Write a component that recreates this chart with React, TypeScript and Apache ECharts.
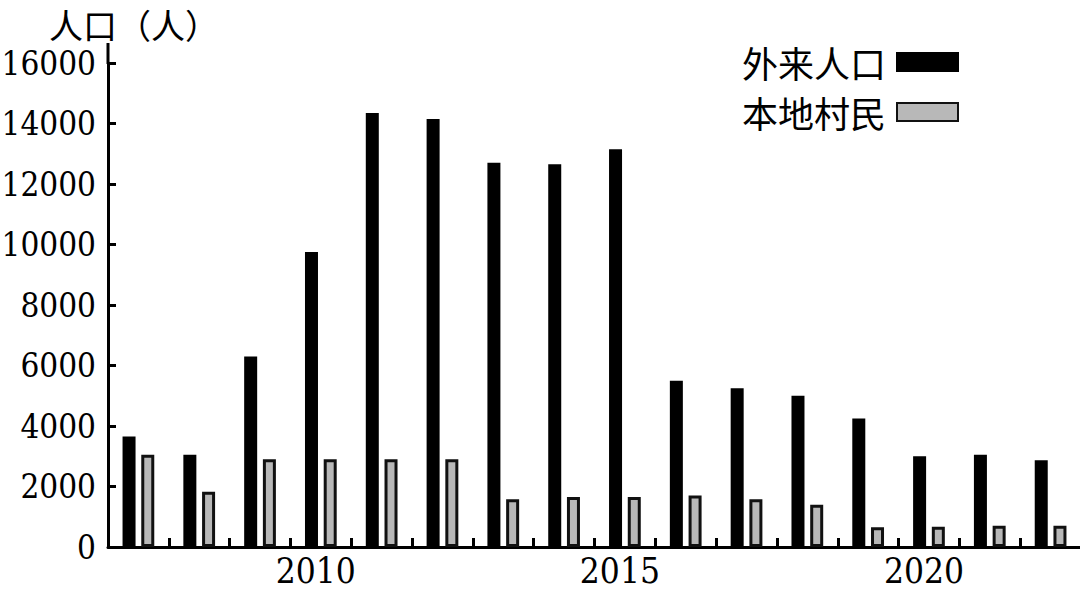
import React, { useEffect, useRef } from 'react';
import * as echarts from 'echarts';

const years = ['2007', '2008', '2009', '2010', '2011', '2012', '2013', '2014', '2015', '2016', '2017', '2018', '2019', '2020', '2021', '2022'];
const migrants = [3650, 3050, 6300, 9750, 14350, 14150, 12700, 12650, 13150, 5500, 5250, 5000, 4250, 3000, 3050, 2870];
const villagers = [3050, 1830, 2900, 2900, 2900, 2900, 1580, 1650, 1650, 1700, 1580, 1400, 650, 670, 700, 700];
const shownYears = ['2010', '2015', '2020'];

const serif = 'DejaVu Serif Condensed';
const cjk = 'Noto Sans CJK SC';

const App: React.FC = () => {
	const chartRef = useRef<HTMLDivElement>(null);

	useEffect(() => {
		if (!chartRef.current) return;
		const chart = echarts.init(chartRef.current, undefined, { renderer: 'svg' });

		const option: any = {
			animation: false,
			backgroundColor: '#fff',
			title: {
				text: '人口（人）',
				left: 44,
				top: 2,
				textStyle: { fontFamily: cjk, fontSize: 34, fontWeight: 'normal', color: '#000' }
			},
			legend: {
				orient: 'vertical',
				align: 'right',
				right: 116,
				top: 39,
				itemWidth: 61,
				itemHeight: 18,
				itemGap: 14,
				icon: 'rect',
				textStyle: { fontFamily: cjk, fontSize: 36, color: '#000', lineHeight: 36, padding: [0, 6, 0, 0] },
				data: ['外来人口', '本地村民']
			},
			grid: { left: 108, top: 63, width: 973, height: 484, outerBoundsMode: 'none', containLabel: false },
			xAxis: {
				type: 'category',
				data: years,
				boundaryGap: true,
				axisLine: { lineStyle: { color: '#000', width: 3 } },
				axisTick: { show: true, inside: true, length: 9, interval: 0, lineStyle: { color: '#000', width: 3 } },
				axisLabel: {
					interval: (_i: number, v: string) => shownYears.includes(v),
					color: '#000',
					fontFamily: serif,
					fontSize: 35,
					margin: 6,
					padding: [0, 10, 0, 0]
				}
			},
			yAxis: {
				type: 'value',
				min: 0,
				max: 16000,
				interval: 2000,
				axisLine: { show: true, lineStyle: { color: '#000', width: 3 } },
				axisTick: { show: true, inside: true, length: 8, lineStyle: { color: '#000', width: 3 } },
				axisLabel: { color: '#000', fontFamily: serif, fontSize: 33, margin: 12, formatter: (v: number) => String(v) },
				splitLine: { show: false }
			},
			graphic: [
				{
					type: 'line',
					shape: { x1: 108, y1: 43, x2: 108, y2: 64 },
					style: { stroke: '#000', lineWidth: 3 }
				}
			],
			series: [
				{
					name: '外来人口',
					type: 'bar',
					data: migrants,
					barWidth: 13,
					barGap: '44%',
					itemStyle: { color: '#000', borderColor: '#000', borderWidth: 2 }
				},
				{
					name: '本地村民',
					type: 'bar',
					data: villagers,
					barWidth: 13,
					itemStyle: { color: '#b8b8b8', borderColor: '#111', borderWidth: 3 }
				}
			]
		};

		chart.setOption(option);
		return () => {
			chart.dispose();
		};
	}, []);

	return <div ref={chartRef} style={{ position: 'fixed', left: 0, top: 0, width: 1080, height: 597 }} />;
};

export default App;
